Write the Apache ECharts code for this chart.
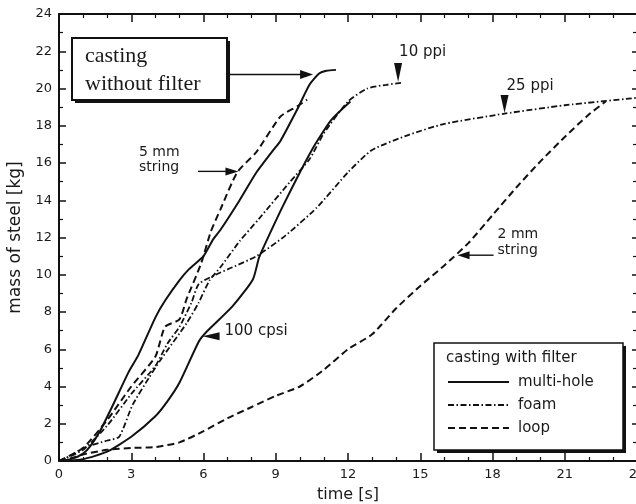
<!DOCTYPE html>
<html>
<head>
<meta charset="utf-8">
<script src="https://cdn.jsdelivr.net/npm/echarts@6/dist/echarts.min.js"></script>
<style>
  html, body { margin: 0; padding: 0; background: #fff; }
  #chart { width: 636px; height: 504px; }
</style>
</head>
<body>
<div id="chart"></div>
<script>
// Pouring curves: cumulative mass of steel [kg] against time [s], pairs of [time, mass]
const noFilter = [[0,0],[0.5,0.1],[1,0.4],[1.3,0.8],[1.7,1.6],[2.2,2.9],[2.9,4.8],[3.3,5.7],[4.0,7.7],[4.4,8.6],[5.0,9.7],[5.4,10.3],[6.0,11.0],[6.4,11.9],[6.7,12.4],[7.5,14.0],[8.2,15.5],[8.9,16.7],[9.2,17.2],[9.9,18.9],[10.4,20.2],[10.8,20.8],[11.1,20.95],[11.5,21.0]];
const multiHole100cpsi = [[0,0],[1,0.1],[2,0.5],[3,1.3],[4,2.4],[4.5,3.2],[5,4.2],[5.8,6.4],[6.1,6.9],[7.2,8.3],[8.05,9.75],[8.3,10.9],[8.5,11.5],[9.3,13.7],[10.5,16.7],[11.3,18.3],[12.1,19.3]];
const string5mm = [[0,0],[1,0.7],[2,2.2],[3,4.0],[4,5.6],[4.4,7.2],[5,7.6],[5.3,8.7],[5.9,10.6],[6.3,12.3],[6.7,13.5],[7.4,15.5],[8.2,16.6],[9.2,18.5],[9.9,19.05],[10.3,19.4]];
const foam10ppi = [[0,0],[0.5,0.3],[1,0.7],[2,1.1],[2.5,1.3],[3.05,3.0],[3.75,4.5],[4.2,5.4],[5.3,7.4],[5.8,8.5],[6.25,9.7],[6.7,10.4],[7.5,11.8],[8.3,13.0],[9.6,15.0],[10.4,16.2],[11,17.6],[12,19.3],[12.8,20.0],[13.6,20.2],[14.2,20.3]];
const foam25ppi = [[0,0],[1,0.6],[2,1.9],[3,3.6],[4,5.1],[4.5,6.3],[5,7.2],[5.5,8.5],[5.8,9.5],[6.5,10.0],[7.2,10.4],[8.2,11.0],[9.4,12.1],[10.7,13.6],[12,15.5],[13,16.7],[14.5,17.5],[16,18.1],[18.5,18.65],[21,19.1],[24,19.5]];
const string2mm = [[0,0],[0.5,0.15],[1,0.35],[2,0.6],[3,0.7],[4,0.75],[5,1.0],[6,1.6],[7,2.3],[8,2.9],[9,3.5],[10,4.0],[11,4.9],[12,6.0],[13,6.8],[14,8.2],[15,9.4],[16,10.5],[17,11.7],[18,13.2],[19,14.7],[20,16.1],[21,17.4],[22,18.6],[22.7,19.3]];

// Axis ranges and steps
const timeRange = [0, 24];
const timeStep = 3;
const massRange = [0, 24];
const massStep = 2;

// Legend entries for the filtered castings
const legendTitle = 'casting with filter';
const legendNames = ['multi-hole', 'foam', 'loop'];

// Points on the curves that the annotation arrows point at
const tipNoFilter = [10.55, 20.75];
const tip5mm = [7.45, 15.55];
const tip10ppi = [14.08, 20.35];
const tip25ppi = [18.5, 18.68];
const tip2mm = [16.55, 11.05];
const tip100cpsi = [5.96, 6.7];

const INK = '#111';
const SANS = '"DejaVu Sans", "Liberation Sans", sans-serif';
const SERIF = '"Liberation Serif", "DejaVu Serif", serif';

const solid = { color: INK, width: 2, type: 'solid' };
const loopDash = { color: INK, width: 2, type: [7, 4] };
const foamDash = { color: INK, width: 1.8, type: [6, 2.5, 1.5, 2.5] };

function lineSeries(name, data, style) {
  return {
    name, type: 'line', data,
    xAxisIndex: 0, yAxisIndex: 0,
    showSymbol: false, symbol: 'none', smooth: 0.2,
    lineStyle: style, silent: true, z: 3
  };
}

const baseAxis = {
  type: 'value',
  axisLine: { show: true, onZero: false, lineStyle: { color: INK, width: 2 } },
  splitLine: { show: false },
  axisTick: { show: true, inside: true, length: 8, lineStyle: { color: INK, width: 1.5 } },
  minorTick: { show: true, length: 4, lineStyle: { color: INK, width: 1.2 } },
  axisLabel: { color: '#1a1a1a', fontFamily: SANS, fontSize: 13 }
};

const option = {
  animation: false,
  backgroundColor: '#fff',
  grid: { left: 59, right: -1, top: 14, bottom: 43, containLabel: false, outerBoundsMode: 'none' },
  xAxis: [
    Object.assign({}, baseAxis, {
      min: timeRange[0], max: timeRange[1], interval: timeStep,
      position: 'bottom',
      minorTick: Object.assign({}, baseAxis.minorTick, { splitNumber: 3 }),
      axisLabel: Object.assign({}, baseAxis.axisLabel, { margin: 7 }),
      name: 'time [s]', nameLocation: 'middle', nameGap: 26,
      nameTextStyle: { fontFamily: SANS, fontSize: 16, color: '#1a1a1a' }
    }),
    Object.assign({}, baseAxis, {
      min: timeRange[0], max: timeRange[1], interval: timeStep,
      position: 'top',
      minorTick: Object.assign({}, baseAxis.minorTick, { splitNumber: 3 }),
      axisLabel: { show: false }
    })
  ],
  yAxis: [
    Object.assign({}, baseAxis, {
      min: massRange[0], max: massRange[1], interval: massStep,
      position: 'left',
      axisTick: Object.assign({}, baseAxis.axisTick, { length: 7 }),
      minorTick: Object.assign({}, baseAxis.minorTick, { splitNumber: 2 }),
      axisLabel: Object.assign({}, baseAxis.axisLabel, { margin: 7 }),
      name: 'mass of steel [kg]', nameLocation: 'middle', nameGap: 30, nameRotate: 90,
      nameTextStyle: { fontFamily: SANS, fontSize: 17, color: '#1a1a1a' }
    }),
    Object.assign({}, baseAxis, {
      min: massRange[0], max: massRange[1], interval: massStep,
      position: 'right',
      axisTick: Object.assign({}, baseAxis.axisTick, { length: 5 }),
      minorTick: Object.assign({}, baseAxis.minorTick, { splitNumber: 2 }),
      axisLabel: { show: false }
    })
  ],
  series: [
    lineSeries('casting without filter', noFilter, solid),
    lineSeries('100 cpsi', multiHole100cpsi, solid),
    lineSeries('5 mm string', string5mm, loopDash),
    lineSeries('10 ppi', foam10ppi, foamDash),
    lineSeries('25 ppi', foam25ppi, foamDash),
    lineSeries('2 mm string', string2mm, loopDash)
  ]
};

const chart = echarts.init(document.getElementById('chart'), null, { renderer: 'canvas' });
chart.setOption(option);

const toPx = p => chart.convertToPixel({ xAxisIndex: 0, yAxisIndex: 0 }, p);

// Filled triangular arrow head with its point at (tx, ty), pointing along (dx, dy)
function head(tx, ty, dx, dy, len, half) {
  const bx = tx - dx * len, by = ty - dy * len;
  const nx = -dy, ny = dx;
  return {
    type: 'polygon', z: 20,
    shape: { points: [[tx, ty], [bx + nx * half, by + ny * half], [bx - nx * half, by - ny * half]] },
    style: { fill: INK }
  };
}
function seg(x1, y1, x2, y2, w) {
  return { type: 'line', z: 20, shape: { x1, y1, x2, y2 }, style: { stroke: INK, lineWidth: w || 1.5 } };
}
function label(text, x, y, font, align) {
  return {
    type: 'text', z: 21,
    style: { text, x, y, font, fill: '#1a1a1a', textAlign: align || 'left', textVerticalAlign: 'middle' }
  };
}

const g = [];

// Boxed label for the unfiltered casting
g.push({ type: 'rect', z: 18, shape: { x: 75, y: 41, width: 155, height: 62 }, style: { fill: INK } });
g.push({ type: 'rect', z: 19, shape: { x: 72, y: 38, width: 155, height: 62 }, style: { fill: '#fff', stroke: INK, lineWidth: 2 } });
g.push(label('casting', 85, 56, '22px ' + SERIF));
g.push(label('without filter', 85, 84, '22px ' + SERIF));
{
  const [tx, ty] = toPx(tipNoFilter);
  g.push(seg(229, ty, tx - 10, ty, 1.6));
  g.push(head(tx, ty, 1, 0, 13, 4.5));
}

// 5 mm string
g.push(label('5 mm', 139, 152, '14px ' + SANS));
g.push(label('string', 139, 167, '14px ' + SANS));
{
  const [tx, ty] = toPx(tip5mm);
  g.push(seg(198, ty, tx - 10, ty, 1.4));
  g.push(head(tx, ty, 1, 0, 13, 4));
}

// 10 ppi
{
  const [tx, ty] = toPx(tip10ppi);
  g.push(head(tx, ty, 0, 1, 19, 4));
  g.push(label('10 ppi', tx + 1, ty - 30, '15px ' + SANS));
}

// 25 ppi
{
  const [tx, ty] = toPx(tip25ppi);
  g.push(head(tx, ty, 0, 1, 18, 4));
  g.push(label('25 ppi', tx + 2, ty - 27, '15px ' + SANS));
}

// 2 mm string
{
  const [tx, ty] = toPx(tip2mm);
  g.push(seg(tx + 8, ty, tx + 36, ty, 1.4));
  g.push(head(tx, ty, -1, 0, 12, 4));
  g.push(label('2 mm', tx + 40, ty - 21, '14px ' + SANS));
  g.push(label('string', tx + 40, ty - 5, '14px ' + SANS));
}

// 100 cpsi
{
  const [tx, ty] = toPx(tip100cpsi);
  g.push(head(tx, ty, -1, 0, 17, 4));
  g.push(label('100 cpsi', tx + 22, ty - 5, '15px ' + SANS));
}

// Legend box
const legendStyles = [solid, foamDash, loopDash];
g.push({ type: 'rect', z: 18, shape: { x: 437, y: 346, width: 189, height: 107 }, style: { fill: INK } });
g.push({ type: 'rect', z: 19, shape: { x: 434, y: 343, width: 189, height: 107 }, style: { fill: '#fff', stroke: INK, lineWidth: 1.5 } });
g.push(label(legendTitle, 446, 358, '15px ' + SANS));
legendNames.forEach((name, i) => {
  const y = 382 + i * 23;
  const st = legendStyles[i];
  g.push({
    type: 'line', z: 20, shape: { x1: 448, y1: y, x2: 509, y2: y },
    style: { stroke: INK, lineWidth: st.width, lineDash: Array.isArray(st.type) ? st.type : null }
  });
  g.push(label(name, 518, y, '15px ' + SANS));
});

chart.setOption({ graphic: { elements: g } });
</script>
</body>
</html>
